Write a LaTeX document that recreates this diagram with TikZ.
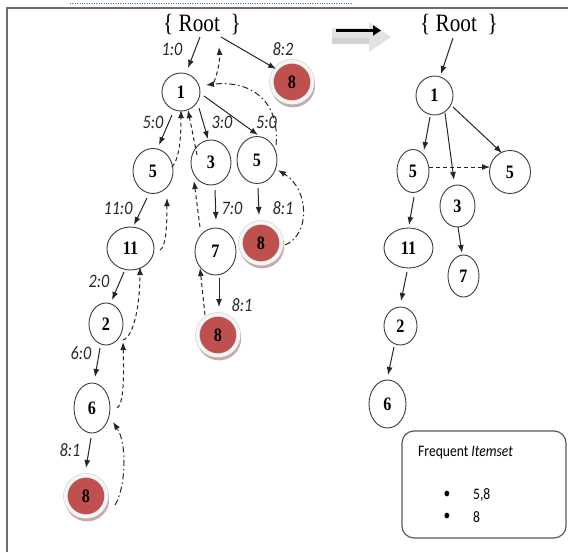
\documentclass[tikz,border=0pt]{standalone}
\usepackage{fontspec}
\setmainfont{Liberation Serif}[FakeStretch=0.85]
\newfontfamily\calib{Carlito}[FakeStretch=0.85]
\usetikzlibrary{arrows.meta,shapes.geometric,shadows}
\definecolor{hitred}{RGB}{192,80,77}
\definecolor{hitshade}{RGB}{175,135,135}
\definecolor{edgegray}{RGB}{60,60,60}
\definecolor{framegray}{RGB}{110,110,110}
\definecolor{dotgreen}{RGB}{60,150,60}

\begin{document}
\begin{tikzpicture}[x=1pt,y=-1pt,
  item/.style={ellipse, draw=edgegray, line width=0.9pt, fill=white, inner sep=0pt,
    font=\fontsize{19}{19}\selectfont\bfseries},
  hit/.style={circle, minimum size=41pt, inner sep=0pt, fill=hitred,
    draw=black!25, double=white!96!black, double distance=3.6pt, line width=0.4pt,
    drop shadow={shadow xshift=1pt, shadow yshift=-3pt, shadow scale=1.08, fill=hitshade, opacity=0.7},
    font=\fontsize{19}{19}\selectfont\bfseries},
  cnt/.style={font=\calib\itshape\fontsize{19}{19}\selectfont, text=black!85, inner sep=0pt},
  rootlabel/.style={font=\fontsize{25}{25}\selectfont, inner sep=0pt},
  boxtext/.style={font=\calib\fontsize{16}{16}\selectfont, inner sep=0pt},
  arr/.style={-{Latex[length=8pt,width=6pt]}, line width=1pt, black!85},
  link/.style={arr, dash pattern=on 4pt off 3pt},
  linkdot/.style={arr, dash pattern=on 6pt off 3pt on 1.5pt off 3pt},
]
\useasboundingbox (0,0) rectangle (568,552);

% frame and rule above it
\draw[dotgreen, line width=0.6pt, dash pattern=on 0.8pt off 1.6pt] (70,3) -- (352,3);
\draw[framegray, line width=1.5pt] (7,552) -- (7,8) -- (568,8);

% ---------------- left tree ----------------
\node[rootlabel] (rootL) at (202,24.5) {\{~Root~~\}};

\node[item, minimum width=38pt, minimum height=38pt] (n1) at (181,92) {1};
\node[hit] (r8a) at (292,82) {8};
\node[item, minimum width=40pt, minimum height=45pt] (n5a) at (153,171) {5};
\node[item, minimum width=40pt, minimum height=45pt] (n3) at (211,162.5) {3};
\node[item, minimum width=40pt, minimum height=47pt] (n5b) at (257,160) {5};
\node[item, minimum width=47pt, minimum height=43pt] (n11) at (130.5,248.5) {11};
\node[item, minimum width=41pt, minimum height=47pt] (n7) at (215.5,251.5) {7};
\node[hit] (r8b) at (261,243) {8};
\node[item, minimum width=34pt, minimum height=42pt] (n2) at (106,324) {2};
\node[hit] (r8c) at (218,335) {8};
\node[item, minimum width=36pt, minimum height=50pt] (n6) at (92,408) {6};
\node[hit] (r8d) at (86,496) {8};

% counts
\node[cnt] (c1) at (172,49) {1:0};
\node[cnt] (c2) at (283,49) {8:2};
\node[cnt] (c3) at (153,122) {5:0};
\node[cnt] (c4) at (222,122) {3:0};
\node[cnt] (c5) at (266.5,122) {5:0};
\node[cnt] (c6) at (118,208) {11:0};
\node[cnt] (c7) at (232,208) {7:0};
\node[cnt] (c8) at (283,208) {8:1};
\node[cnt] (c9) at (99,281) {2:0};
\node[cnt] (c10) at (242,305) {8:1};
\node[cnt] (c11) at (81,353) {6:0};
\node[cnt] (c12) at (70,450) {8:1};

% tree edges
\draw[arr] ([shift={(-2,12.5)}]rootL.center) -- ([shift={(7,-24)}]n1.center);
\draw[arr] ([shift={(19,12.5)}]rootL.center) -- ([shift={(-16,-13)}]r8a.center);
\draw[arr] ([shift={(-9,23)}]n1.center) -- ([shift={(6,-26)}]n5a.center);
\draw[arr] ([shift={(18,16)}]n1.center) -- ([shift={(-3,-23.5)}]n3.center);
\draw[arr] ([shift={(23,4)}]n1.center) -- ([shift={(1,-25)}]n5b.center);
\draw[arr] ([shift={(-6,27)}]n5a.center) -- ([shift={(3.5,-23.5)}]n11.center);
\draw[arr] ([shift={(4,27.5)}]n3.center) -- ([shift={(0.5,-31.5)}]n7.center);
\draw[arr] ([shift={(1,28)}]n5b.center) -- ([shift={(-2,-28)}]r8b.center);
\draw[arr] ([shift={(-6.5,23.5)}]n11.center) -- ([shift={(6,-24)}]n2.center);
\draw[arr] ([shift={(3.5,26.5)}]n7.center) -- ([shift={(1,-28)}]r8c.center);
\draw[arr] ([shift={(-6,24)}]n2.center) -- ([shift={(3,-31)}]n6.center);
\draw[arr] ([shift={(-1,30)}]n6.center) -- ([shift={(0,-28)}]r8d.center);

% node links
\draw[link] ([shift={(33,-10)}]n1.center) .. controls +(4,-10) and +(1,13) .. ([shift={(17,22.5)}]rootL.center);
\draw[linkdot] ([shift={(19,-15)}]n5b.center) .. controls +(4,-45) and +(44,-5) .. ([shift={(25,-7)}]n1.center);
\draw[link] ([shift={(19,-4)}]n5a.center) .. controls +(8,-9) and +(0,25) .. ([shift={(0,18)}]n1.center);
\draw[link] ([shift={(-14,-7.5)}]n3.center) -- ([shift={(7,18)}]n1.center);
\draw[link] ([shift={(-15.5,-24.5)}]n7.center) -- ([shift={(-17,18.5)}]n3.center);
\draw[link] ([shift={(-13,-20)}]r8c.center) -- ([shift={(-15.5,16.5)}]n7.center);
\draw[linkdot] ([shift={(24,2)}]r8b.center) .. controls +(25,-10) and +(32,20) .. ([shift={(21,10)}]n5b.center);
\draw[link] ([shift={(29.5,1.5)}]n11.center) .. controls +(6,-3) and +(0,27) .. ([shift={(14,27)}]n5a.center);
\draw[link] ([shift={(17,16)}]n2.center) .. controls +(12,-4) and +(0,33) .. ([shift={(9.5,18.5)}]n11.center);
\draw[link] ([shift={(25,0)}]n6.center) .. controls +(7,-4) and +(1,33) .. ([shift={(17,18)}]n2.center);
\draw[linkdot] ([shift={(29,9)}]r8d.center) .. controls +(10,-15) and +(15,23) .. ([shift={(21,14)}]n6.center);

% ---------------- transformation arrow ----------------
\fill[gray!22] (332,28) -- (369,28) -- (369,22) -- (391,37) -- (369,52) -- (369,44) -- (332,44) -- cycle;
\fill[gray!35] (332,38) -- (369,38) -- (369,44) -- (332,44) -- cycle;
\draw[line width=3pt, -{Triangle[length=8pt,width=10pt]}] (336,30.5) -- (381,30.5);

% ---------------- right tree ----------------
\node[rootlabel] (rootR) at (459,24.5) {\{~Root~~\}};

\node[item, minimum width=37pt, minimum height=39pt] (m1) at (434.5,95.5) {1};
\node[item, minimum width=32pt, minimum height=43pt] (m5a) at (413,171) {5};
\node[item, minimum width=41pt, minimum height=43pt] (m5b) at (510,172) {5};
\node[item, minimum width=35pt, minimum height=42pt] (m3) at (457.5,206) {3};
\node[item, minimum width=49pt, minimum height=40pt] (m11) at (408.5,248) {11};
\node[item, minimum width=31pt, minimum height=42pt] (m7) at (463.5,276) {7};
\node[item, minimum width=33pt, minimum height=38pt] (m2) at (400.5,326) {2};
\node[item, minimum width=37pt, minimum height=48pt] (m6) at (387.5,404) {6};

\draw[arr] ([shift={(-6,13.5)}]rootR.center) -- ([shift={(6.5,-21.5)}]m1.center);
\draw[arr] ([shift={(-4.5,21.5)}]m1.center) -- ([shift={(11,-21)}]m5a.center);
\draw[arr] ([shift={(10.5,17.5)}]m1.center) -- ([shift={(-3.5,-26)}]m3.center);
\draw[arr] ([shift={(18.5,11.5)}]m1.center) -- ([shift={(-8,-19)}]m5b.center);
\draw[link] ([shift={(16,-4)}]m5a.center) -- ([shift={(-20,-5)}]m5b.center);
\draw[arr] ([shift={(1,26)}]m5a.center) -- ([shift={(0.5,-23)}]m11.center);
\draw[arr] ([shift={(0.5,21)}]m3.center) -- ([shift={(-1.5,-23)}]m7.center);
\draw[arr] ([shift={(-1.5,24)}]m11.center) -- ([shift={(0.5,-25)}]m2.center);
\draw[arr] ([shift={(-6.5,21)}]m2.center) -- ([shift={(0.5,-29)}]m6.center);

% ---------------- result box ----------------
\node[draw=black!65, line width=1.2pt, rounded corners=12pt, minimum width=164pt,
      minimum height=107pt, inner sep=0pt] (freq) at (484,484.5) {};
\node[boxtext, anchor=west] (fhead) at (418,453) {Frequent \textit{Itemset}};
\node[boxtext] (b1) at (447,495) {\textbullet};
\node[boxtext] (b2) at (447,517) {\textbullet};
\node[boxtext, anchor=west] (s1) at (473,495) {5,8};
\node[boxtext, anchor=west] (s2) at (473,517) {8};
\end{tikzpicture}
\end{document}
